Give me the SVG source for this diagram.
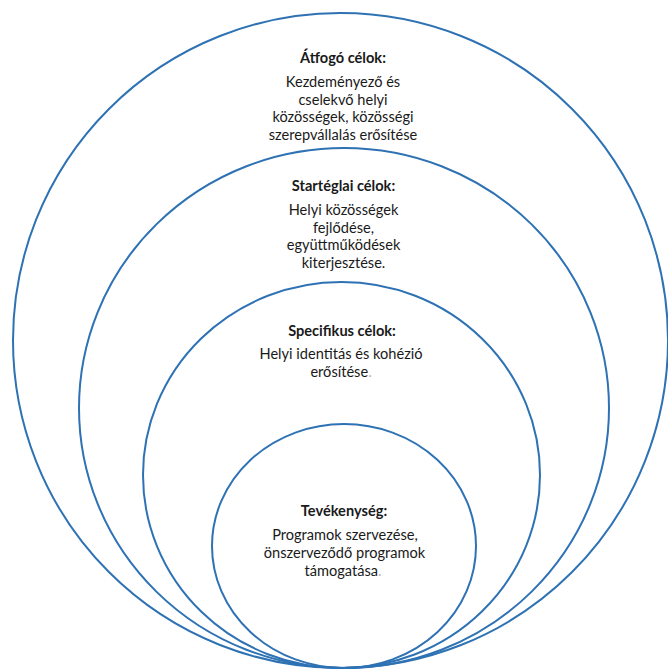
<svg xmlns="http://www.w3.org/2000/svg" width="668" height="672" viewBox="0 0 668 672">
<style>
.ring{fill:none;stroke:#2E72B4;stroke-width:2}
text{font-family:Lato,"Liberation Sans",sans-serif;font-size:14.6px;fill:#1a1a1a;text-anchor:middle}
.h{font-weight:bold}
.dot{fill:#b0b0b0}
</style>
<rect width="668" height="672" fill="#ffffff"/>
<g id="outer">
<circle class="ring" cx="340.5" cy="340.5" r="327.5"/>
<text class="h" x="343" y="63">Átfogó célok:</text>
<text x="343" y="87">Kezdeményező és</text>
<text x="343" y="104.5">cselekvő helyi</text>
<text x="343" y="122">közösségek, közösségi</text>
<text x="343" y="139.5">szerepvállalás erősítése</text>
</g>
<g id="strategic">
<ellipse class="ring" cx="344" cy="408" rx="265" ry="260"/>
<text class="h" x="343.5" y="191">Startéglai célok:</text>
<text x="343.5" y="215">Helyi közösségek</text>
<text x="343.5" y="232.5">fejlődése,</text>
<text x="343.5" y="250">együttműködések</text>
<text x="343.5" y="267.5">kiterjesztése.</text>
</g>
<g id="specific">
<ellipse class="ring" cx="341.5" cy="475" rx="198.5" ry="193"/>
<text class="h" x="342" y="336">Specifikus célok:</text>
<text x="341" y="359">Helyi identitás és kohézió</text>
<text x="341" y="377">erősítése<tspan class="dot">.</tspan></text>
</g>
<g id="activity">
<ellipse class="ring" cx="344" cy="546" rx="132" ry="122"/>
<text class="h" x="344" y="516">Tevékenység:</text>
<text x="345" y="540">Programok szervezése,</text>
<text x="344.5" y="558">önszerveződő programok</text>
<text x="343" y="576">támogatása<tspan class="dot">.</tspan></text>
</g>
<g id="connectors"/>
</svg>
